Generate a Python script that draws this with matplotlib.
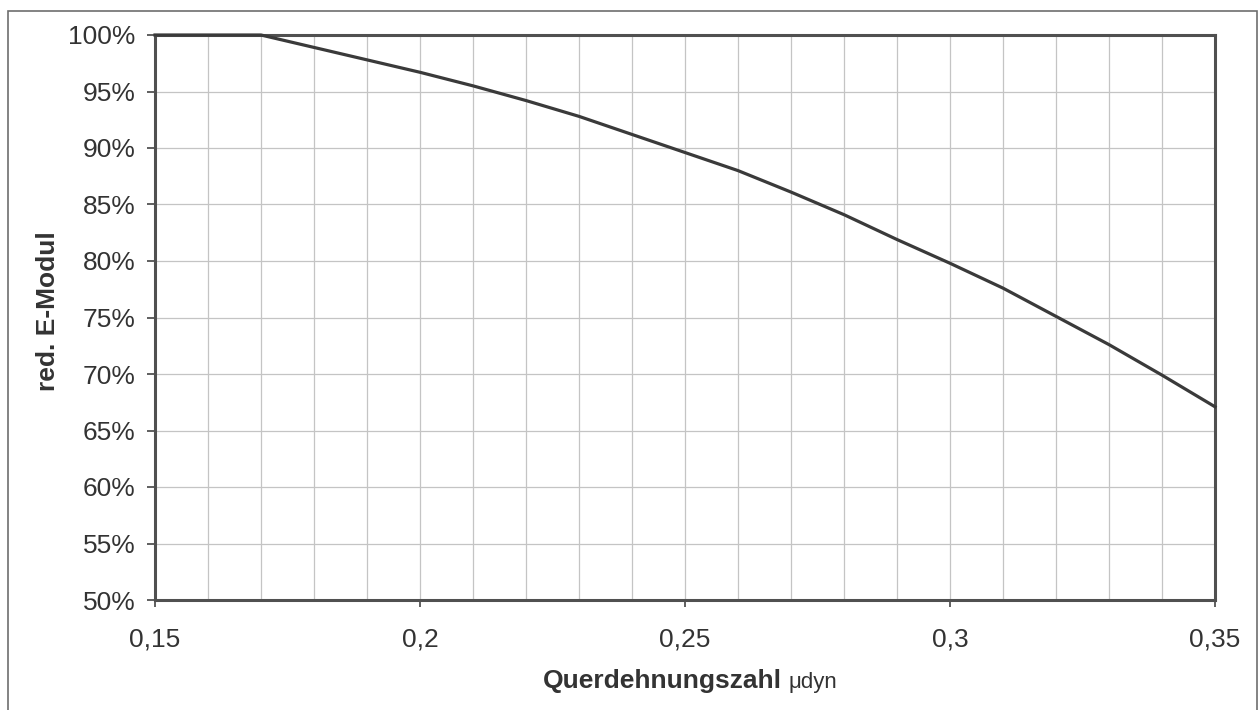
import matplotlib.pyplot as plt
from matplotlib.ticker import MultipleLocator, FuncFormatter
from matplotlib.patches import Rectangle

# Werte
mu_dyn = [0.15, 0.16, 0.17, 0.18, 0.19, 0.20, 0.21, 0.22, 0.23, 0.24, 0.25,
          0.26, 0.27, 0.28, 0.29, 0.30, 0.31, 0.32, 0.33, 0.34, 0.35]
e_modul_red = [100.0, 100.0, 100.0, 98.9, 97.8, 96.7, 95.5, 94.2, 92.8, 91.2, 89.6,
               88.0, 86.1, 84.1, 81.9, 79.8, 77.6, 75.1, 72.6, 69.9, 67.1]

x_label = 'Querdehnungszahl'
x_label_sub = 'μdyn'
y_label = 'red. E-Modul'

plt.rcParams['font.family'] = ['Liberation Sans', 'DejaVu Sans']

fig = plt.figure(figsize=(12.59, 7.10), dpi=100)
ax = fig.add_axes([155 / 1259, 1 - 600 / 710, 1060 / 1259, 565 / 710])

# Rahmen um die ganze Grafik
fig.patches.append(Rectangle((8 / 1259, -0.05), 1249 / 1259, 1 - 11 / 710 + 0.05,
                             transform=fig.transFigure, fill=False,
                             edgecolor='#6e6e6e', linewidth=1.2))

ax.plot(mu_dyn, e_modul_red, color='#3a3a3a', linewidth=2.3, clip_on=False, zorder=5)

ax.set_xlim(0.15, 0.35)
ax.set_ylim(50, 100)

ax.xaxis.set_major_locator(MultipleLocator(0.05))
ax.xaxis.set_minor_locator(MultipleLocator(0.01))
ax.yaxis.set_major_locator(MultipleLocator(5))
ax.xaxis.set_major_formatter(FuncFormatter(lambda v, p: f'{v:g}'.replace('.', ',')))
ax.yaxis.set_major_formatter(FuncFormatter(lambda v, p: f'{v:.0f}%'))

ax.grid(True, which='both', axis='x', color='#c4c4c4', linewidth=0.9)
ax.grid(True, which='major', axis='y', color='#c4c4c4', linewidth=0.9)
ax.set_axisbelow(True)

ax.tick_params(axis='x', which='major', direction='out', length=5, width=1.2,
               color='#444444', pad=15, labelsize=19, labelcolor='#333333')
ax.tick_params(axis='x', which='minor', length=0)
ax.tick_params(axis='y', direction='out', length=6, width=1.2,
               color='#444444', pad=8, labelsize=19, labelcolor='#333333')

for side in ['left', 'right', 'top', 'bottom']:
    ax.spines[side].set_color('#505050')
    ax.spines[side].set_linewidth(2.2)

# Achsentitel
fig.text(48 / 1259, 1 - 311 / 710, y_label, rotation=90, ha='center', va='center',
         fontsize=19, fontweight='bold', color='#333333')
fig.text(543 / 1259, 1 - 688 / 710, x_label, ha='left', va='baseline',
         fontsize=19, fontweight='bold', color='#333333')
fig.text(789 / 1259, 1 - 688 / 710, x_label_sub, ha='left', va='baseline',
         fontsize=16, color='#333333')

fig.savefig('out.png', dpi=100)
